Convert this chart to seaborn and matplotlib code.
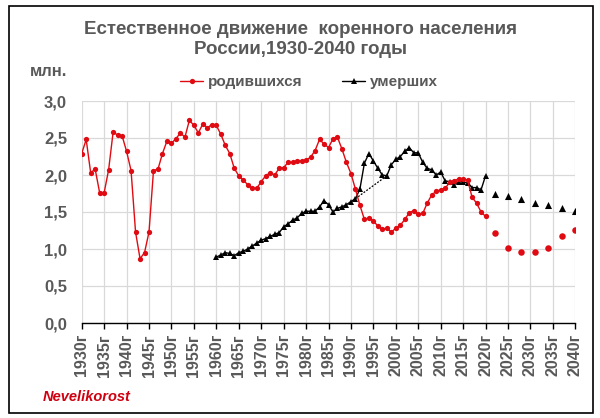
import numpy as np
import pandas as pd
import matplotlib
matplotlib.use("Agg")
import matplotlib.pyplot as plt
from matplotlib.lines import Line2D
from matplotlib.patches import Rectangle
import seaborn as sns

# ---------------- data ----------------
birth_years = list(range(1930, 2021))
births = [
    2.29, 2.48, 2.03, 2.08, 1.76, 1.76, 2.07, 2.58, 2.54, 2.53,   # 1930-1939
    2.32, 2.06, 1.23, 0.87, 0.95, 1.23, 2.06, 2.08, 2.29, 2.46,   # 1940-1949
    2.43, 2.49, 2.57, 2.51, 2.74, 2.67, 2.57, 2.69, 2.64, 2.68,   # 1950-1959
    2.67, 2.55, 2.40, 2.29, 2.09, 1.99, 1.93, 1.87, 1.82, 1.82,   # 1960-1969
    1.91, 1.99, 2.03, 2.00, 2.09, 2.10, 2.17, 2.17, 2.19, 2.19,   # 1970-1979
    2.20, 2.24, 2.33, 2.48, 2.42, 2.37, 2.49, 2.51, 2.35, 2.17,   # 1980-1989
    2.02, 1.81, 1.59, 1.40, 1.42, 1.38, 1.31, 1.27, 1.28, 1.23,   # 1990-1999
    1.28, 1.32, 1.40, 1.49, 1.52, 1.47, 1.48, 1.62, 1.73, 1.78,   # 2000-2009
    1.80, 1.82, 1.90, 1.92, 1.95, 1.95, 1.93, 1.70, 1.62, 1.50,   # 2010-2019
    1.44,                                                         # 2020
]

death_years = list(range(1960, 2021))
deaths = [
    0.89, 0.92, 0.95, 0.94, 0.91, 0.95, 0.97, 1.00, 1.04, 1.08,   # 1960-1969
    1.12, 1.14, 1.17, 1.20, 1.22, 1.30, 1.34, 1.39, 1.42, 1.48,   # 1970-1979
    1.51, 1.51, 1.51, 1.57, 1.65, 1.60, 1.50, 1.55, 1.57, 1.60,   # 1980-1989
    1.64, 1.68, 1.81, 2.16, 2.29, 2.19, 2.09, 2.00, 1.99, 2.14,   # 1990-1999
    2.21, 2.25, 2.32, 2.37, 2.30, 2.30, 2.17, 2.09, 2.07, 2.00,   # 2000-2009
    2.04, 1.92, 1.91, 1.87, 1.91, 1.91, 1.89, 1.83, 1.83, 1.80,   # 2010-2019
    1.99,                                                         # 2020
]

proj_years = [2022, 2025, 2028, 2031, 2034, 2037, 2040]
births_proj = [1.22, 1.01, 0.96, 0.96, 1.02, 1.17, 1.26]
deaths_proj = [1.75, 1.71, 1.67, 1.62, 1.59, 1.56, 1.52]

trend_years = [1991, 1998]          # dotted segment between these deaths values
trend_vals = [deaths[death_years.index(y)] for y in trend_years]

xtick_years = list(range(1930, 2041, 5))
xtick_labels = [f"{y}г" for y in xtick_years]
ytick_vals = [0.0, 0.5, 1.0, 1.5, 2.0, 2.5, 3.0]
ytick_labels = [f"{v:.1f}".replace(".", ",") for v in ytick_vals]

title = "Естественное движение  коренного населения\nРоссии,1930-2040 годы"
label_b = "родившихся"
label_d = "умерших"

# ---------------- style ----------------
sns.set_style("white")
plt.rcParams["font.family"] = ["Liberation Sans", "DejaVu Sans"]
GREY = "#595959"
RED = "#e00b12"
BLACK = "#000000"

fig = plt.figure(figsize=(6.0, 4.18), dpi=100)
ax = fig.add_axes([81.7 / 600, 95 / 418, (575.3 - 81.7) / 600, 222 / 418])

df_b = pd.DataFrame({"year": birth_years, "val": births})
df_d = pd.DataFrame({"year": death_years, "val": deaths})
df_bp = pd.DataFrame({"year": proj_years, "val": births_proj})
df_dp = pd.DataFrame({"year": proj_years, "val": deaths_proj})
df_t = pd.DataFrame({"year": trend_years, "val": trend_vals})

sns.lineplot(data=df_t, x="year", y="val", ax=ax, color=BLACK, lw=0.9,
             linestyle=(0, (1.5, 1.2)), legend=False, zorder=3)
sns.lineplot(data=df_d, x="year", y="val", ax=ax, color=BLACK, lw=1.0,
             marker="^", markersize=4.4, markeredgewidth=0, legend=False, zorder=4)
sns.lineplot(data=df_b, x="year", y="val", ax=ax, color=RED, lw=1.0,
             marker="o", markersize=3.8, markeredgewidth=0, legend=False, zorder=5)
sns.scatterplot(data=df_dp, x="year", y="val", ax=ax, color=BLACK, marker="^",
                s=26, linewidth=0, legend=False, zorder=4)
sns.scatterplot(data=df_bp, x="year", y="val", ax=ax, color=RED, marker="o",
                s=22, linewidth=0, legend=False, zorder=5)

ax.set_xlim(1930, 2040)
ax.set_ylim(0, 3.0)
ax.set_xlabel("")
ax.set_ylabel("")
ax.set_xticks(xtick_years)
ax.set_xticklabels(xtick_labels, rotation=90, fontsize=11.5, fontweight="bold", color=GREY)
ax.set_yticks(ytick_vals)
ax.set_yticklabels(ytick_labels, fontsize=12, fontweight="bold", color=GREY)
ax.tick_params(axis="x", length=4, width=1, color=BLACK, pad=4, direction="out", bottom=True)
ax.tick_params(axis="y", length=0, pad=10.5)
ax.grid(True, color="#d9d9d9", lw=0.9)
ax.set_axisbelow(True)
for s in ["left", "top", "right"]:
    ax.spines[s].set_visible(False)
ax.spines["bottom"].set_color(BLACK)
ax.spines["bottom"].set_linewidth(1.0)
ax.spines["bottom"].set_zorder(6)

# title, unit, legend
fig.text(0.5, 1 - 39.5 / 418, title, ha="center", va="center", fontsize=13.5,
         fontweight="bold", color=GREY, linespacing=1.28)
fig.text(67 / 600, 1 - 71 / 418, "млн.", ha="right", va="center", fontsize=12,
         fontweight="bold", color=GREY)
handles = [
    Line2D([], [], color=RED, lw=1.0, marker="o", markersize=3.8, markeredgewidth=0),
    Line2D([], [], color=BLACK, lw=1.0, marker="^", markersize=4.4, markeredgewidth=0),
]
fig.legend(handles, [label_b, label_d], loc="center", bbox_to_anchor=(309 / 600, 1 - 82 / 418),
           ncol=2, frameon=False, handlelength=1.5, handletextpad=0.3, columnspacing=2.6,
           prop={"size": 11, "weight": "bold"}, labelcolor=GREY)

fig.text(43 / 600, 1 - 397 / 418, "Nevelikorost", ha="left", va="center", fontsize=10.5,
         fontweight="bold", fontstyle="italic", color="#d00010")

fig.add_artist(Rectangle((9 / 600, 5 / 418), 584 / 600, 407 / 418, transform=fig.transFigure,
                         fill=False, edgecolor=BLACK, lw=1.2))

fig.savefig("out.png", dpi=100)
